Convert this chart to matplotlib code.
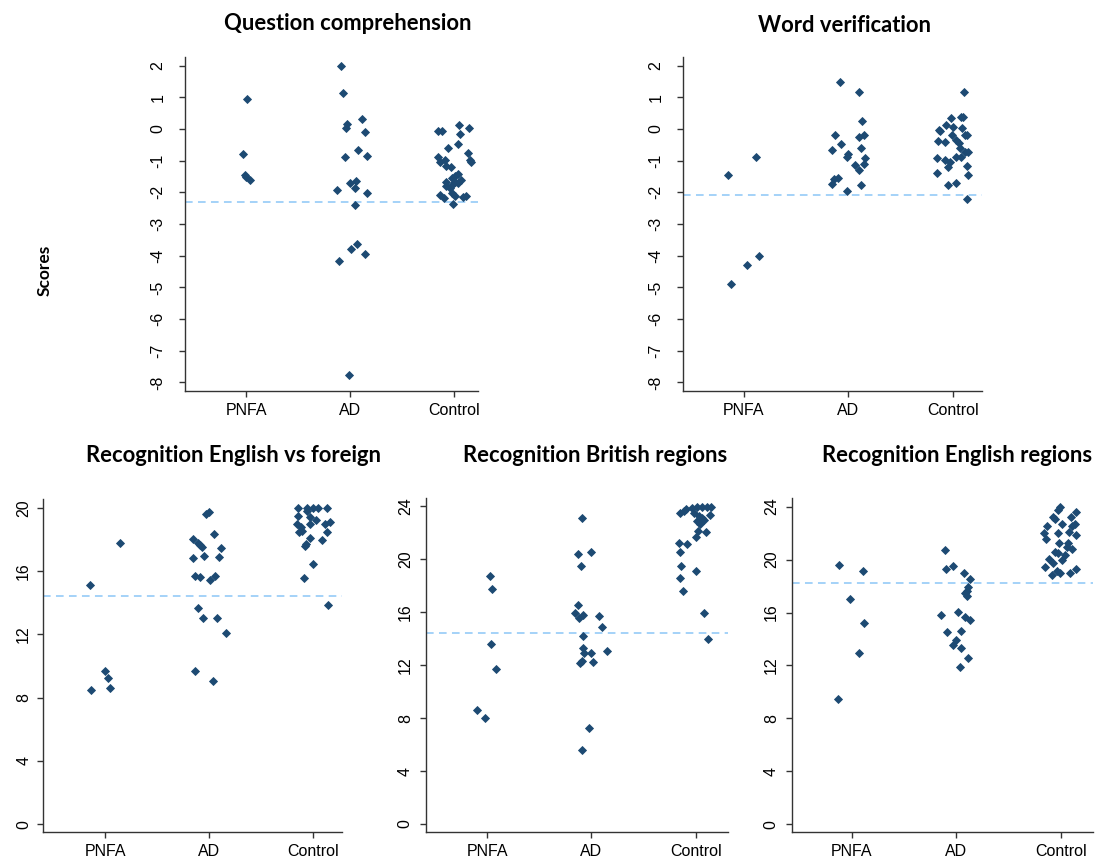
import numpy as np
import matplotlib.pyplot as plt

W, H = 1097, 859

groups = ['PNFA', 'AD', 'Control']
titles = ['Question comprehension', 'Word verification',
          'Recognition English vs foreign', 'Recognition British regions',
          'Recognition English regions']
cutoffs = [-2.31, -2.08, 14.4, 14.45, 18.23]

# --- Question comprehension (values, horizontal jitter)
qc_pnfa = [0.95, -0.78, -1.45, -1.52, -1.61]
qc_pnfa_jit = [0.01, -0.03, -0.01, 0.0, 0.04]
qc_ad = [2.0, 1.13, 0.16, 0.03, 0.31, -0.09, -0.66, -0.88, -0.84, -1.64,
         -1.71, -1.87, -1.93, -2.02, -2.39, -3.63, -3.78, -3.94, -4.17, -7.76]
qc_ad_jit = [-0.09, -0.07, -0.03, -0.04, 0.11, 0.14, 0.08, -0.045, 0.16, 0.06,
             0.0, 0.05, -0.13, 0.16, 0.045, 0.07, 0.01, 0.14, -0.11, -0.01]
qc_ctrl = [-0.08, -0.05, 0.13, 0.02, -0.16, -0.59, -0.47, -0.87, -1.03, -0.98,
           -1.16, -1.2, -0.76, -0.98, -1.04, -1.42, -1.5, -1.56, -1.61, -1.69,
           -1.72, -1.79, -1.77, -1.66, -1.85, -2.1, -2.19, -2.01, -2.12, -2.15,
           -2.11, -2.37]
qc_ctrl_jit = [-0.154, -0.115, 0.048, 0.147, 0.058, -0.054, 0.042, -0.151, -0.135, -0.087,
               -0.077, -0.032, 0.138, 0.154, 0.163, 0.035, 0.01, -0.022, 0.064, -0.077,
               0.042, -0.077, -0.022, 0.01, -0.038, -0.135, -0.096, -0.022, 0.01, 0.09,
               0.115, -0.006]

# --- Word verification
wv_pnfa = [-1.46, -0.87, -4.01, -4.28, -4.89]
wv_pnfa_jit = [-0.15, 0.12, 0.145, 0.025, -0.12]
wv_ad = [1.48, 1.17, 0.24, -0.18, -0.26, -0.2, -0.49, -0.6, -0.68, -0.8,
         -0.87, -0.93, -1.14, -1.11, -1.29, -1.54, -1.58, -1.74, -1.78, -1.97]
wv_ad_jit = [-0.08, 0.1, 0.13, -0.13, 0.105, 0.145, -0.075, 0.12, -0.155, 0.0,
             -0.015, 0.155, 0.065, 0.15, 0.1, -0.1, -0.135, -0.155, 0.12, -0.015]
wv_ctrl = [1.16, 0.37, 0.37, 0.34, 0.12, 0.06, -0.02, -0.08, 0.03, -0.18,
           -0.18, -0.2, -0.39, -0.4, -0.35, -0.43, -0.59, -0.72, -0.73, -0.93,
           -0.98, -1.05, -1.19, -0.87, -0.89, -1.18, -1.38, -1.44, -1.76, -1.72,
           -2.2]
wv_ctrl_jit = [0.112, 0.083, 0.102, -0.019, -0.067, 0.0, -0.131, -0.118, 0.089, 0.115,
               0.134, -0.01, -0.144, -0.07, 0.029, 0.057, 0.073, 0.115, 0.147, -0.147,
               -0.07, -0.029, -0.041, 0.032, 0.08, 0.134, -0.15, 0.144, -0.045, 0.029,
               0.134]

# --- Recognition English vs foreign
ef_pnfa = [15.1, 17.79, 9.69, 9.21, 8.6, 8.48]
ef_pnfa_jit = [-0.15, 0.145, 0.0, 0.03, 0.05, -0.14]
ef_ad = [19.62, 19.7, 18.04, 18.36, 17.79, 17.67, 17.52, 17.43, 16.85, 16.95,
         16.87, 15.71, 15.63, 15.67, 15.42, 13.69, 13.04, 13.04, 12.09, 9.69, 9.04]
ef_ad_jit = [-0.03, 0.0, -0.16, 0.05, -0.11, -0.09, -0.07, 0.11, -0.16, -0.05,
             0.1, -0.14, -0.09, 0.06, 0.01, -0.11, -0.06, 0.08, 0.16, -0.14, 0.04]
ef_ctrl = [20.0, 20.0, 20.0, 20.0, 20.0, 19.79, 19.45, 19.41, 19.24, 18.99,
           18.97, 19.1, 18.99, 18.78, 18.46, 18.53, 18.44, 18.11, 17.94, 17.73,
           17.6, 16.47, 15.58, 13.88]
ef_ctrl_jit = [-0.141, -0.061, 0.003, 0.048, 0.134, -0.061, -0.144, -0.032, 0.032, -0.15,
               0.112, 0.16, -0.032, -0.112, -0.134, -0.102, 0.138, -0.026, 0.086, -0.064,
               -0.077, 0.0, -0.086, 0.141]

# --- Recognition British regions
br_pnfa = [18.75, 17.72, 13.61, 11.72, 8.6, 7.99]
br_pnfa_jit = [0.025, 0.05, 0.04, 0.085, -0.095, -0.015]
br_ad = [23.09, 20.39, 20.54, 19.46, 16.56, 15.96, 15.76, 15.6, 15.73, 14.92,
         14.22, 13.33, 12.93, 12.93, 13.08, 12.2, 12.3, 12.23, 7.23, 5.6]
br_ad_jit = [-0.09, -0.13, 0.0, -0.1, -0.125, -0.16, -0.08, -0.115, 0.07, 0.105,
             -0.08, -0.08, -0.07, 0.0, 0.15, -0.11, -0.085, 0.02, -0.02, -0.085]
br_ctrl = [23.47, 23.67, 23.77, 23.85, 23.97, 23.97, 23.92, 23.97, 23.47, 23.27,
           23.09, 22.91, 22.64, 23.35, 22.96, 22.16, 22.03, 21.68, 21.25, 21.12,
           20.52, 19.51, 19.13, 18.55, 17.57, 15.96, 13.97]
br_ctrl_jit = [-0.153, -0.115, -0.093, -0.035, 0.013, 0.061, 0.109, 0.15, -0.013, 0.029,
               0.061, 0.013, 0.045, 0.134, 0.077, 0.022, 0.099, 0.003, -0.157, -0.083,
               -0.147, -0.144, 0.006, -0.15, -0.118, 0.077, 0.121]

# --- Recognition English regions
er_pnfa = [19.61, 19.16, 16.99, 15.23, 12.96, 9.45]
er_pnfa_jit = [-0.12, 0.11, -0.015, 0.115, 0.065, -0.135]
er_ad = [20.7, 19.31, 19.51, 18.98, 18.55, 17.95, 17.62, 17.44, 17.24, 15.83,
         16.01, 15.63, 15.43, 14.55, 14.6, 13.92, 13.56, 13.31, 12.6, 11.85]
er_ad_jit = [-0.105, -0.095, -0.035, 0.075, 0.13, 0.11, 0.1, 0.085, 0.1, -0.15,
             0.015, 0.08, 0.13, -0.09, 0.045, 0.0, -0.03, 0.05, 0.11, 0.035]
er_ctrl = [24.0, 23.75, 23.62, 23.24, 23.04, 23.24, 22.54, 22.66, 22.66, 22.54,
           21.98, 22.03, 22.11, 21.83, 21.55, 21.23, 21.28, 20.95, 20.77, 20.59,
           20.47, 20.04, 20.32, 19.97, 19.71, 19.46, 19.26, 19.11, 18.98, 18.83,
           18.96]
er_ctrl_jit = [-0.003, -0.022, 0.15, -0.07, -0.058, 0.096, -0.131, 0.016, 0.134, 0.109,
               -0.163, -0.029, 0.083, 0.144, -0.144, -0.019, 0.073, 0.061, 0.109, -0.054,
               -0.029, -0.115, 0.038, 0.016, -0.073, -0.153, 0.15, -0.032, -0.006, -0.08,
               0.089]

panel_data = [
    [(qc_pnfa, qc_pnfa_jit), (qc_ad, qc_ad_jit), (qc_ctrl, qc_ctrl_jit)],
    [(wv_pnfa, wv_pnfa_jit), (wv_ad, wv_ad_jit), (wv_ctrl, wv_ctrl_jit)],
    [(ef_pnfa, ef_pnfa_jit), (ef_ad, ef_ad_jit), (ef_ctrl, ef_ctrl_jit)],
    [(br_pnfa, br_pnfa_jit), (br_ad, br_ad_jit), (br_ctrl, br_ctrl_jit)],
    [(er_pnfa, er_pnfa_jit), (er_ad, er_ad_jit), (er_ctrl, er_ctrl_jit)],
]

# layout: pixel boxes (left, right, top, bottom), limits, ticks
boxes = [(185, 478, 57, 391), (683, 982, 57, 391),
         (43, 342, 499, 832), (426, 728, 498, 832), (792, 1093, 498, 832)]
xlims = [(0.413, 3.23), (0.416, 3.28), (0.40, 3.28), (0.415, 3.31), (0.427, 3.31)]
ylims = [(-8.27, 2.27), (-8.27, 2.27), (-0.5, 20.55), (-0.6, 24.63), (-0.58, 24.65)]
yticks = [np.arange(-8, 3, 1), np.arange(-8, 3, 1),
          np.arange(0, 21, 4), np.arange(0, 25, 4), np.arange(0, 25, 4)]
ypads = [10, 10, 4.5, 5.5, 5.5]
title_pos = [(348, 24), (844, 25), (234, 456), (595, 456), (957, 456)]

marker_color = '#1d4a73'
line_color = '#8cc6f7'
axis_color = '#333333'
tick_font = 'Liberation Sans'
title_font = 'Lato'

fig = plt.figure(figsize=(W / 100, H / 100), dpi=100)

for k in range(5):
    l, r, t, b = boxes[k]
    ax = fig.add_axes([l / W, 1 - b / H, (r - l) / W, (b - t) / H])
    for i, (vals, jit) in enumerate(panel_data[k]):
        x = i + 1 + np.array(jit)
        ax.plot(x, vals, 'D', ms=4.5, color=marker_color, mec=marker_color,
                mew=0.6, ls='none', zorder=3)
    ax.axhline(cutoffs[k], color=line_color, lw=1.1, ls=(0, (5, 3.5)), zorder=2)

    ax.set_xlim(*xlims[k])
    ax.set_ylim(*ylims[k])
    ax.set_xticks([1, 2, 3])
    ax.set_xticklabels(groups, fontsize=11.5, family=tick_font)
    ax.set_yticks(yticks[k])
    ax.set_yticklabels([str(v) for v in yticks[k]], fontsize=11.5, family=tick_font,
                       rotation=90, va='center')
    ax.tick_params(axis='x', length=4, width=1, color=axis_color, pad=5)
    ax.tick_params(axis='y', length=4, width=1, color=axis_color, pad=ypads[k])
    for s in ['top', 'right']:
        ax.spines[s].set_visible(False)
    for s in ['left', 'bottom']:
        ax.spines[s].set_color(axis_color)
        ax.spines[s].set_linewidth(1)

    tx, ty = title_pos[k]
    fig.text(tx / W, 1 - ty / H, titles[k], ha='center', va='center',
             fontsize=15.8, fontweight='bold', family=title_font)

fig.text(45 / W, 1 - 270 / H, 'Scores', rotation=90, ha='center', va='center',
         fontsize=12.5, fontweight='bold', family=title_font)

fig.savefig('out.png', dpi=100)
